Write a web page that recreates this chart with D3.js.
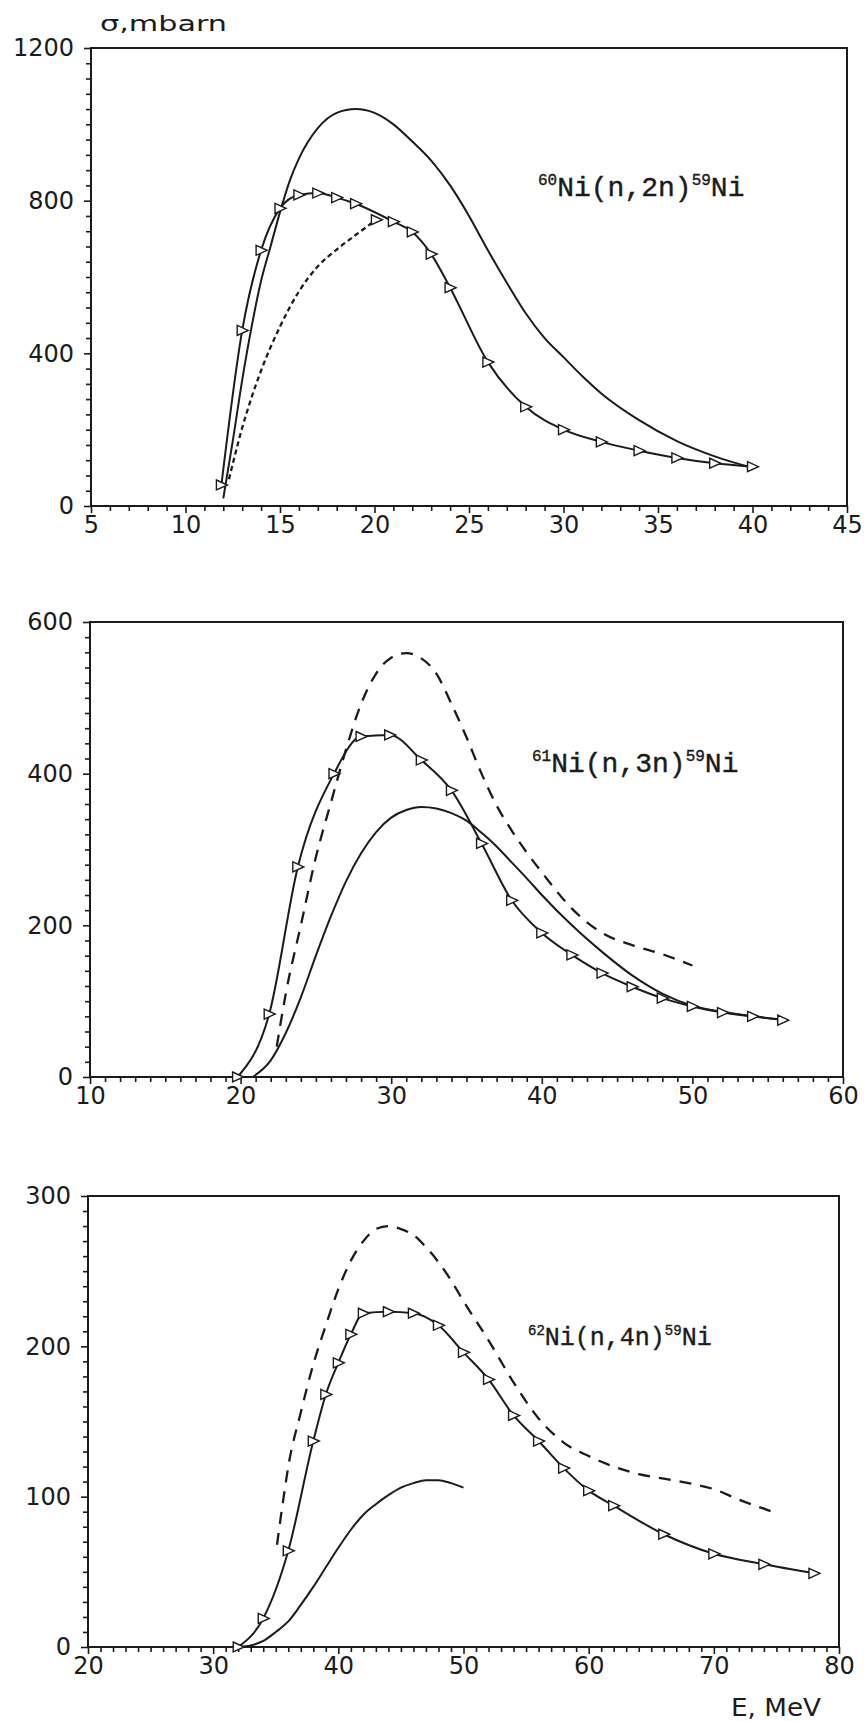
<!DOCTYPE html>
<html>
<head>
<meta charset="utf-8">
<script src="https://cdn.jsdelivr.net/npm/d3@7"></script>
<style>
  body { margin: 0; background: #fff; }
  svg { display: block; }
</style>
</head>
<body>
<svg id="chart" width="864" height="1721"></svg>
<script>
// ---- 60Ni(n,2n)59Ni : energy (MeV), cross section (mbarn) ----
const n2nSmooth = [[12.0,20],[12.5,170],[13,330],[13.5,470],[14,590],[14.5,680],[15,770],[15.5,850],[16,910],[17,990],[18,1030],[19,1040],[20,1030],[21,1000],[22,955],[23,905],[24,840],[25,760],[26,670],[27,585],[28,505],[29,440],[30,390],[31,340],[32,295],[34,225],[36,170],[38,130],[40,100]];
const n2nMarked = [[11.9,55],[13,460],[14,670],[15,780],[16,815],[17,820],[18,808],[19,792],[21,745],[22,718],[23,660],[24,572],[26,377],[28,260],[30,200],[32,168],[34,145],[36,126],[38,112],[40,103]];
const n2nDashed = [[12.3,70],[12.6,130],[13,205],[13.5,285],[14,355],[15,470],[16,562],[17,628],[18,672],[19,710],[20.1,750]];

// ---- 61Ni(n,3n)59Ni ----
const n3nSmooth = [[20.8,0],[22,22],[23,58],[24,105],[25,160],[26,212],[27,258],[28,295],[29,323],[30,342],[31,352],[32,356],[33,354],[34,348],[35,338],[36,322],[37,304],[38,283],[39,262],[40,240],[42,200],[44,165],[46,134],[48,110],[50,94],[52,86],[54,80],[56,76]];
const n3nMarked = [[19.8,0],[21.9,83],[23.8,277],[26.2,400],[28,449],[29.9,451],[32,418],[34,378],[36,308],[38,233],[40,190],[42,161],[44,137],[46,119],[48,104],[50,93],[52,85],[54,80],[56,75]];
const n3nDashed = [[22.4,40],[23,110],[24,200],[25,290],[26,362],[27,432],[28,492],[29,532],[30,553],[31,559],[32,552],[33,532],[34,492],[35,448],[36,400],[37,358],[38,325],[39,296],[40,270],[42,222],[44,190],[46,174],[48,162],[50,147]];

// ---- 62Ni(n,4n)59Ni ----
const n4nSmooth = [[32,0],[33,1],[34,4],[35,10],[36,17],[37,28],[38,40],[39,53],[40,66],[41,78],[42,88],[43,95],[44,101],[45,106],[46,109],[47,111],[48,111],[49,109],[50,106]];
const n4nMarked = [[32,0],[34,19],[36,64],[38,137],[39,168],[40,189],[41,208],[42,222],[44,223],[46,222],[48,214],[50,196],[52,178],[54,154],[56,137],[58,119],[60,104],[62,94],[66,75],[70,62],[74,55],[78,49]];
const n4nDashed = [[35.1,68],[35.6,98],[36,120],[37,156],[38,188],[39,214],[40,238],[41,257],[42,270],[43,278],[44,280],[45,278],[46,274],[47,266],[48,256],[49,244],[50,230],[52,204],[54,176],[56,152],[58,136],[60,127],[62,120],[64,115],[66,112],[68,109],[70,105],[72,98],[74,92],[75,89]];

// ---- tick values ----
const n2nXTicks = [5,10,15,20,25,30,35,40,45];
const n2nYTicks = [0,400,800,1200];
const n3nXTicks = [10,20,30,40,50,60];
const n3nYTicks = [0,200,400,600];
const n4nXTicks = [20,30,40,50,60,70,80];
const n4nYTicks = [0,100,200,300];

// ---- reaction labels ----
const reactions = [
  { target: "60", body: "Ni(n,2n)", product: "59" },
  { target: "61", body: "Ni(n,3n)", product: "59" },
  { target: "62", body: "Ni(n,4n)", product: "59" }
];

const ink = "#1b1b1b";
const svg = d3.select("#chart");

const panels = [
  { xDomain:[5,45], xRange:[91,847], yDomain:[0,1200], yRange:[506,48],
    xTicks:n2nXTicks, yTicks:n2nYTicks, xMinor:1, yMinor:40,
    smooth:n2nSmooth, marked:n2nMarked, dashed:n2nDashed, dash:"5,3.5", dashEndMarker:true,
    reaction:reactions[0], labelX:538, labelY:196, labelSize:28 },
  { xDomain:[10,60], xRange:[90,843], yDomain:[0,600], yRange:[1077,622],
    xTicks:n3nXTicks, yTicks:n3nYTicks, xMinor:1, yMinor:20,
    smooth:n3nSmooth, marked:n3nMarked, dashed:n3nDashed, dash:"12,9", dashEndMarker:false,
    reaction:reactions[1], labelX:532, labelY:772, labelSize:28 },
  { xDomain:[20,80], xRange:[88,839], yDomain:[0,300], yRange:[1647,1196],
    xTicks:n4nXTicks, yTicks:n4nYTicks, xMinor:1, yMinor:10,
    smooth:n4nSmooth, marked:n4nMarked, dashed:n4nDashed, dash:"12,9", dashEndMarker:false,
    reaction:reactions[2], labelX:528, labelY:1345, labelSize:25 }
];

const markerPath = "M-5,-5 L6,0 L-5,5 Z";

function minorValues(domain, step, major) {
  const n = Math.round((domain[1] - domain[0]) / step);
  const vals = d3.range(n + 1).map(i => +(domain[0] + i * step).toFixed(6));
  return vals.filter(v => !major.some(m => Math.abs(m - v) < 1e-6));
}

function styleAxis(g) {
  g.select(".domain").remove();
  g.selectAll("line").attr("stroke", ink).attr("stroke-width", 1.6);
  g.selectAll("text")
    .attr("fill", ink)
    .attr("font-family", "'DejaVu Sans', sans-serif")
    .attr("font-size", 24);
}

panels.forEach(p => {
  const x = d3.scaleLinear().domain(p.xDomain).range(p.xRange);
  const y = d3.scaleLinear().domain(p.yDomain).range(p.yRange);
  const g = svg.append("g");

  // minor ticks
  g.append("g")
    .attr("transform", `translate(0,${p.yRange[0]})`)
    .call(d3.axisBottom(x).tickValues(minorValues(p.xDomain, p.xMinor, p.xTicks)).tickSize(5).tickFormat(""))
    .call(styleAxis);
  g.append("g")
    .attr("transform", `translate(${p.xRange[0]},0)`)
    .call(d3.axisLeft(y).tickValues(minorValues(p.yDomain, p.yMinor, p.yTicks)).tickSize(5).tickFormat(""))
    .call(styleAxis);

  // major ticks with labels
  g.append("g")
    .attr("transform", `translate(0,${p.yRange[0]})`)
    .call(d3.axisBottom(x).tickValues(p.xTicks).tickSize(7).tickPadding(3).tickFormat(d3.format("d")))
    .call(styleAxis);
  g.append("g")
    .attr("transform", `translate(${p.xRange[0]},0)`)
    .call(d3.axisLeft(y).tickValues(p.yTicks).tickSize(7).tickPadding(10).tickFormat(d3.format("d")))
    .call(styleAxis);

  // frame
  g.append("rect")
    .attr("x", p.xRange[0]).attr("y", p.yRange[1])
    .attr("width", p.xRange[1] - p.xRange[0])
    .attr("height", p.yRange[0] - p.yRange[1])
    .attr("fill", "none").attr("stroke", ink).attr("stroke-width", 2);

  const line = d3.line().x(d => x(d[0])).y(d => y(d[1])).curve(d3.curveMonotoneX);

  g.append("path").datum(p.smooth).attr("d", line)
    .attr("fill", "none").attr("stroke", ink).attr("stroke-width", 2);
  g.append("path").datum(p.dashed).attr("d", line)
    .attr("fill", "none").attr("stroke", ink).attr("stroke-width", 2.3)
    .attr("stroke-dasharray", p.dash);
  g.append("path").datum(p.marked).attr("d", line)
    .attr("fill", "none").attr("stroke", ink).attr("stroke-width", 2);

  const markerData = p.marked.slice();
  if (p.dashEndMarker) markerData.push(p.dashed[p.dashed.length - 1]);
  g.selectAll("path.mk").data(markerData).join("path")
    .attr("class", "mk")
    .attr("d", markerPath)
    .attr("transform", d => `translate(${x(d[0])},${y(d[1])})`)
    .attr("fill", "#fff").attr("stroke", ink).attr("stroke-width", 1.4);

  // reaction label
  const sup = Math.round(p.labelSize * 0.58);
  const rise = Math.round(p.labelSize * 0.38);
  const t = g.append("text")
    .attr("x", p.labelX).attr("y", p.labelY)
    .attr("font-family", "'Liberation Mono', 'Courier New', monospace")
    .attr("font-size", p.labelSize)
    .attr("fill", ink)
    .attr("stroke", ink).attr("stroke-width", 0.4);
  t.append("tspan").attr("font-size", sup).attr("dy", -rise).text(p.reaction.target);
  t.append("tspan").attr("dy", rise).text(p.reaction.body);
  t.append("tspan").attr("font-size", sup).attr("dy", -rise).text(p.reaction.product);
  t.append("tspan").attr("dy", rise).text("Ni");
});

// axis titles
svg.append("text")
  .attr("x", 100).attr("y", 31)
  .attr("font-family", "'DejaVu Sans', sans-serif")
  .attr("font-size", 22)
  .attr("textLength", 127).attr("lengthAdjust", "spacingAndGlyphs")
  .attr("fill", ink)
  .text("σ,mbarn");

svg.append("text")
  .attr("x", 731).attr("y", 1716)
  .attr("font-family", "'DejaVu Sans', sans-serif")
  .attr("font-size", 25)
  .attr("textLength", 90).attr("lengthAdjust", "spacingAndGlyphs")
  .attr("fill", ink)
  .text("E, MeV");
</script>
</body>
</html>
